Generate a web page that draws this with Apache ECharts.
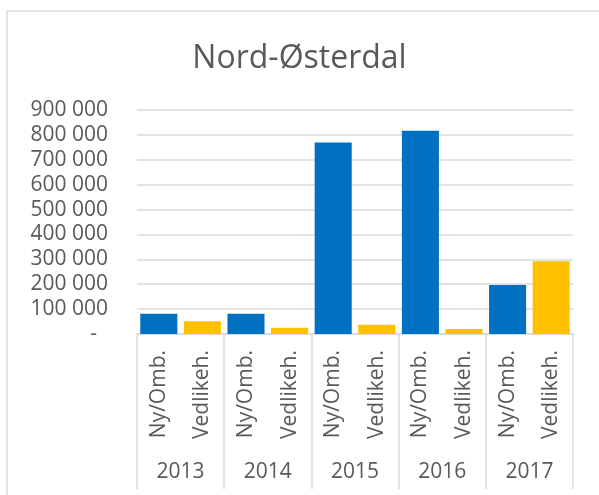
<!DOCTYPE html>
<html>
<head>
<meta charset="utf-8">
<script src="https://cdn.jsdelivr.net/npm/echarts@6/dist/echarts.min.js"></script>
<style>
html, body { margin: 0; padding: 0; background: #fff; }
#main { width: 599px; height: 495px; }
</style>
</head>
<body>
<div id="main"></div>
<script>
var years = ['2013', '2014', '2015', '2016', '2017'];
var types = ['Ny/Omb.', 'Vedlikeh.'];
var nyOmb = [81000, 81000, 769000, 817000, 197000];
var vedlikeh = [51000, 25000, 37000, 20000, 292000];
var yTicks = [0, 100000, 200000, 300000, 400000, 500000, 600000, 700000, 800000, 900000];

// inner axis: one slot per bar
var cats = [];
var nyData = [];
var vedData = [];
years.forEach(function (y, i) {
    cats.push(types[0], types[1]);
    nyData.push(nyOmb[i], null);
    vedData.push(null, vedlikeh[i]);
});

var font = '"Open Sans", "Noto Sans", sans-serif';
var grey = '#595959';
var lineGrey = '#d9d9d9';

var myChart = echarts.init(document.getElementById('main'));
var option = {
    animation: false,
    title: {
        text: 'Nord-Østerdal',
        left: 'center',
        top: 38,
        textStyle: { fontFamily: font, fontSize: 32, fontWeight: 'normal', color: grey }
    },
    graphic: [{
        type: 'rect',
        shape: { x: 7, y: 11, width: 620, height: 520 },
        style: { fill: 'none', stroke: lineGrey, lineWidth: 1.5 },
        silent: true
    }],
    grid: { left: 137, right: 26, top: 110, bottom: 161 },
    xAxis: [{
        type: 'category',
        data: cats,
        position: 'bottom',
        axisLine: { lineStyle: { color: lineGrey, width: 1.5 } },
        axisTick: { show: false },
        axisLabel: {
            interval: 0, rotate: 90, margin: 16,
            fontFamily: font, fontSize: 21, color: grey
        }
    }, {
        type: 'category',
        data: years,
        position: 'bottom',
        axisLine: { show: false },
        axisTick: { show: true, length: 155, lineStyle: { color: lineGrey, width: 1.5 } },
        axisLabel: { interval: 0, margin: 128, fontFamily: font, fontSize: 21, color: grey }
    }],
    yAxis: {
        type: 'value',
        min: yTicks[0],
        max: yTicks[yTicks.length - 1],
        interval: 100000,
        axisLine: { show: false },
        axisTick: { show: false },
        splitLine: { lineStyle: { color: lineGrey, width: 1.5 } },
        axisLabel: {
            margin: 29,
            fontFamily: font, fontSize: 21, color: grey,
            formatter: function (v) {
                if (v === 0) return '-  ';
                return String(v).replace(/\B(?=(\d{3})+(?!\d))/g, ' ');
            }
        }
    },
    series: [{
        name: types[0],
        type: 'bar',
        data: nyData,
        barWidth: '85%',
        barGap: '-100%',
        itemStyle: { color: '#0070C0' }
    }, {
        name: types[1],
        type: 'bar',
        data: vedData,
        barWidth: '85%',
        barGap: '-100%',
        itemStyle: { color: '#FFC000' }
    }]
};
if (option && typeof option === "object") {
    myChart.setOption(option, true);
}
</script>
</body>
</html>
